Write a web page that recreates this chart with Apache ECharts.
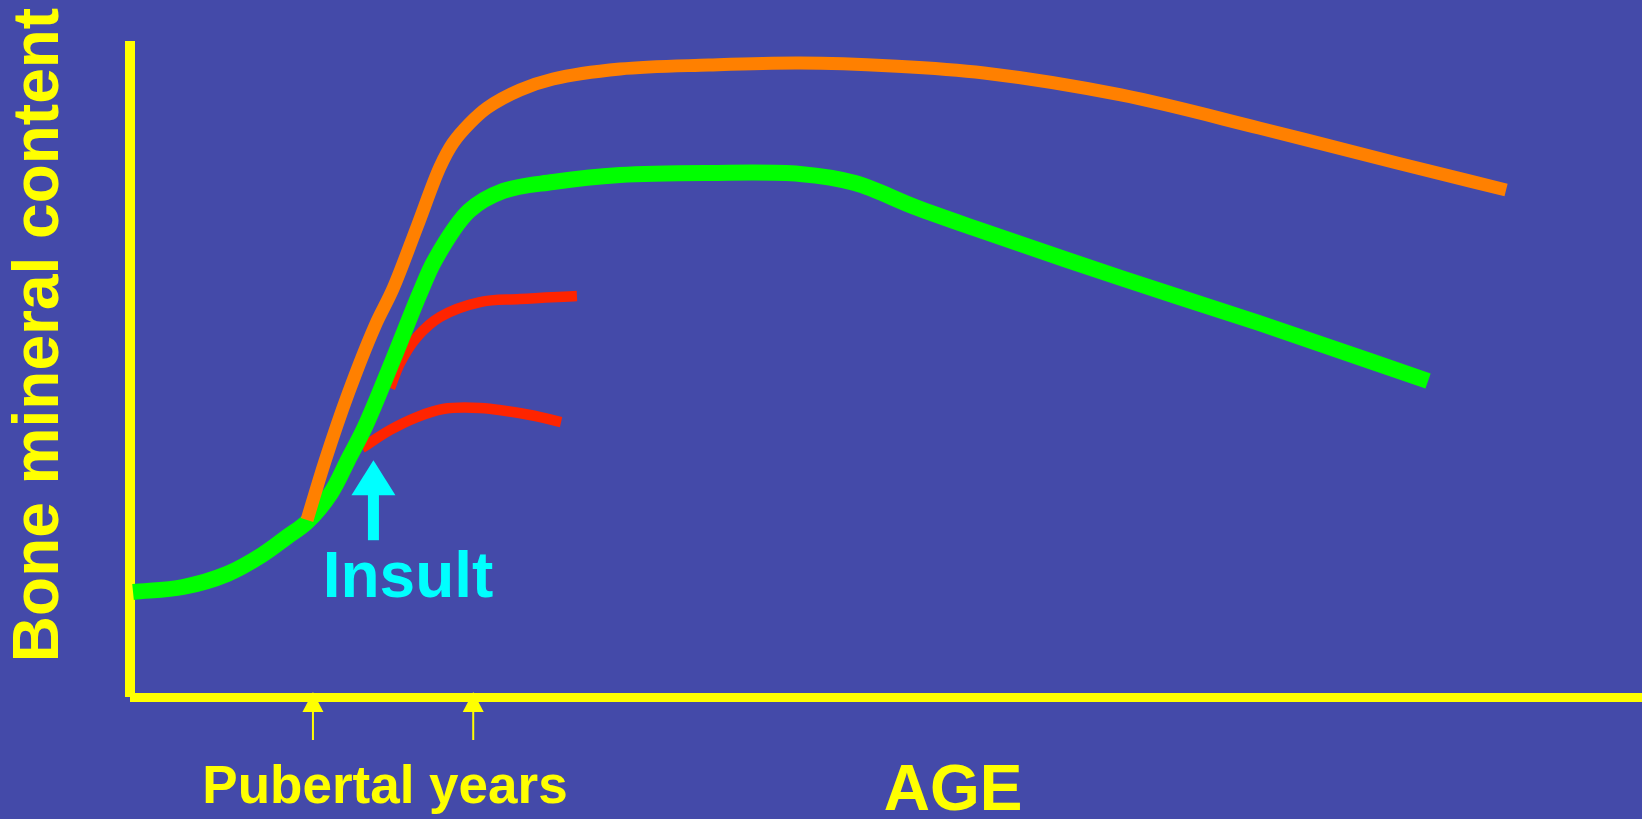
<!DOCTYPE html>
<html>
<head>
<meta charset="utf-8">
<title>Bone mineral content and age</title>
<script src="https://cdn.jsdelivr.net/npm/echarts@6/dist/echarts.min.js"></script>
<style>
  html, body { margin: 0; padding: 0; background: #444AA9; }
  #chart { width: 1642px; height: 819px; }
</style>
</head>
<body>
<div id="chart"></div>
<script>
// Age runs 0–100 (relative units), bone mineral content 0–100 (relative units).
const normalCurve = [
  [0.20, 16.01], [3.51, 16.77], [6.42, 18.75], [8.73, 21.65], [10.38, 24.39], [11.71, 26.68],
  [13.29, 31.10], [14.42, 36.13], [15.54, 41.16], [17.39, 51.37], [19.18, 61.59], [20.17, 66.62],
  [22.42, 74.09], [24.67, 77.13], [27.98, 78.51], [32.41, 79.57], [38.29, 79.88], [44.31, 79.73],
  [47.95, 78.35], [51.92, 74.70], [55.82, 71.49], [65.54, 63.87], [74.67, 57.01], [85.85, 48.17]
];
const optimalCurve = [
  [11.71, 26.98], [12.90, 35.98], [14.42, 46.19], [16.20, 56.55], [17.39, 62.20], [18.98, 71.65],
  [20.50, 80.79], [21.36, 84.45], [22.49, 87.50], [23.61, 89.79], [25.79, 92.53], [27.98, 94.21],
  [32.41, 95.73], [38.29, 96.34], [44.31, 96.65], [50.40, 96.19], [56.48, 95.12], [65.54, 91.77],
  [74.67, 86.74], [83.80, 81.40], [91.01, 77.29]
];
const lateInsultCurve = [
  [17.20, 47.10], [17.86, 50.91], [18.98, 54.88], [20.50, 57.93], [23.15, 60.21], [25.79, 60.67], [29.56, 61.13]
];
const earlyInsultCurve = [
  [15.34, 37.96], [17.20, 40.70], [18.98, 42.68], [20.70, 43.90], [23.15, 44.05], [26.46, 42.99], [28.51, 41.92]
];
const pubertyMarks = [12.1, 22.7];
const insultMark = [[16.1, 36.1, 23.9]]; // age, arrow tip, arrow tail

const YELLOW = '#FFFF00';
const CYAN = '#00FFFF';
const FONT = '"Liberation Sans", Arial, Helvetica, sans-serif';

// Centripetal Catmull-Rom spline through pixel points, as cubic Bezier path data.
function splinePath(pts) {
  const n = pts.length;
  const P = i => {
    if (i < 0) return [2 * pts[0][0] - pts[1][0], 2 * pts[0][1] - pts[1][1]];
    if (i >= n) return [2 * pts[n - 1][0] - pts[n - 2][0], 2 * pts[n - 1][1] - pts[n - 2][1]];
    return pts[i];
  };
  const dist = (a, b) => Math.sqrt(Math.hypot(b[0] - a[0], b[1] - a[1])) || 1e-6;
  let d = 'M' + pts[0][0] + ',' + pts[0][1];
  for (let i = 0; i < n - 1; i++) {
    const p0 = P(i - 1), p1 = P(i), p2 = P(i + 1), p3 = P(i + 2);
    const d1 = dist(p0, p1), d2 = dist(p1, p2), d3 = dist(p2, p3);
    const b1 = [0, 1].map(k => (d1 * d1 * p2[k] - d2 * d2 * p0[k] + (2 * d1 * d1 + 3 * d1 * d2 + d2 * d2) * p1[k]) / (3 * d1 * (d1 + d2)));
    const b2 = [0, 1].map(k => (d3 * d3 * p1[k] - d2 * d2 * p3[k] + (2 * d3 * d3 + 3 * d3 * d2 + d2 * d2) * p2[k]) / (3 * d3 * (d3 + d2)));
    d += ' C' + b1[0] + ',' + b1[1] + ' ' + b2[0] + ',' + b2[1] + ' ' + p2[0] + ',' + p2[1];
  }
  return d;
}

// A smooth curve series: the whole path is built once, from the series' own points.
const curve = (name, data, color, width, z) => ({
  name, type: 'custom', data, z, clip: false,
  encode: { x: 0, y: 1 },
  renderItem: (params, api) => {
    if (params.dataIndex !== 0) return { type: 'group', children: [] };
    const pts = data.map(p => api.coord(p));
    return {
      type: 'path',
      shape: { pathData: splinePath(pts) },
      style: { fill: 'none', stroke: color, lineWidth: width, lineCap: 'butt', lineJoin: 'round' }
    };
  }
});

const chart = echarts.init(document.getElementById('chart'), null, { renderer: 'canvas' });

chart.setOption({
  backgroundColor: '#444AA9',
  animation: false,
  grid: { left: 130, right: 0, top: 41, bottom: 122, containLabel: false },
  xAxis: {
    type: 'value', min: 0, max: 100,
    axisLine: { show: true, lineStyle: { color: YELLOW, width: 9, cap: 'butt' } },
    axisTick: { show: false }, axisLabel: { show: false }, splitLine: { show: false }
  },
  yAxis: {
    type: 'value', min: 0, max: 100,
    axisLine: { show: true, lineStyle: { color: YELLOW, width: 10, cap: 'butt' } },
    axisTick: { show: false }, axisLabel: { show: false }, splitLine: { show: false }
  },
  series: [
    curve('Insult, late', lateInsultCurve, '#FF2400', 10.5, 2),
    curve('Insult, early', earlyInsultCurve, '#FF2400', 10.5, 2),
    curve('Normal', normalCurve, '#00FF00', 16, 3),
    curve('Optimal', optimalCurve, '#FF8000', 13, 4),
    {
      name: 'Puberty', type: 'custom', data: pubertyMarks.map(a => [a]), z: 5, clip: false,
      renderItem: (params, api) => {
        const p = api.coord([api.value(0), 0]);
        const x = p[0], y = p[1] - 5;
        return {
          type: 'group',
          children: [
            { type: 'polygon', shape: { points: [[x, y], [x - 10.5, y + 20], [x + 10.5, y + 20]] }, style: { fill: YELLOW } },
            { type: 'rect', shape: { x: x - 1, y: y + 19, width: 2, height: 29 }, style: { fill: YELLOW } }
          ]
        };
      }
    },
    {
      name: 'Insult', type: 'custom', data: insultMark, z: 5, clip: false,
      renderItem: (params, api) => {
        const tip = api.coord([api.value(0), api.value(1)]);
        const tail = api.coord([api.value(0), api.value(2)]);
        const x = tip[0];
        return {
          type: 'group',
          children: [
            { type: 'polygon', shape: { points: [[x, tip[1]], [x - 22, tip[1] + 35], [x + 22, tip[1] + 35]] }, style: { fill: CYAN } },
            { type: 'rect', shape: { x: x - 5.5, y: tip[1] + 34, width: 11, height: tail[1] - tip[1] - 34 }, style: { fill: CYAN } }
          ]
        };
      }
    }
  ],
  graphic: [
    {
      type: 'text', x: 408, y: 579, z: 10,
      style: { text: 'Insult', fill: CYAN, font: 'bold 64px ' + FONT, align: 'center', verticalAlign: 'middle' }
    },
    {
      type: 'text', x: 385, y: 788, z: 10,
      style: { text: 'Pubertal years', fill: YELLOW, font: 'bold 53px ' + FONT, align: 'center', verticalAlign: 'middle' }
    },
    {
      type: 'text', x: 953, y: 792, z: 10,
      style: { text: 'AGE', fill: YELLOW, font: 'bold 64px ' + FONT, align: 'center', verticalAlign: 'middle' }
    },
    {
      type: 'text', x: 40, y: 335, rotation: Math.PI / 2, z: 10,
      style: { text: 'Bone mineral content', fill: YELLOW, font: 'bold 64px ' + FONT, align: 'center', verticalAlign: 'middle' }
    }
  ]
});
</script>
</body>
</html>
